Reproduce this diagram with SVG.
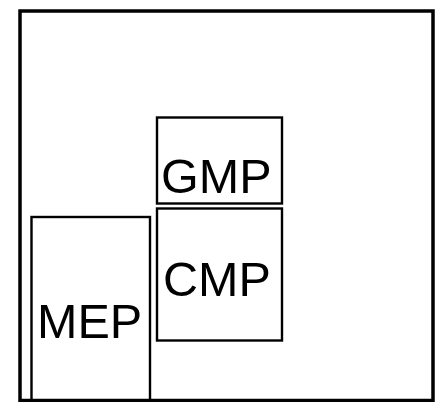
<svg xmlns="http://www.w3.org/2000/svg" width="437" height="402" viewBox="0 0 437 402">
<style>
.box{fill:none;stroke:#000;stroke-width:2.4}
.outer{fill:none;stroke:#000;stroke-width:3.5}
.lbl{font-family:"Liberation Sans",Arial,sans-serif;font-size:48.5px;fill:#000}
</style>
<rect width="437" height="402" fill="#fff"/>
<g id="outer"><rect class="outer" x="20" y="11" width="413" height="389.5"/></g>
<g id="gmp"><rect class="box" x="157" y="117.5" width="125" height="86"/><text class="lbl" x="161" y="193">GMP</text></g>
<g id="cmp"><rect class="box" x="157" y="208.5" width="125" height="132"/><text class="lbl" x="163" y="296">CMP</text></g>
<g id="mep"><rect class="box" x="31.5" y="217" width="118.5" height="190"/><text class="lbl" x="37" y="338">MEP</text></g>
<g id="connectors"/>
</svg>
